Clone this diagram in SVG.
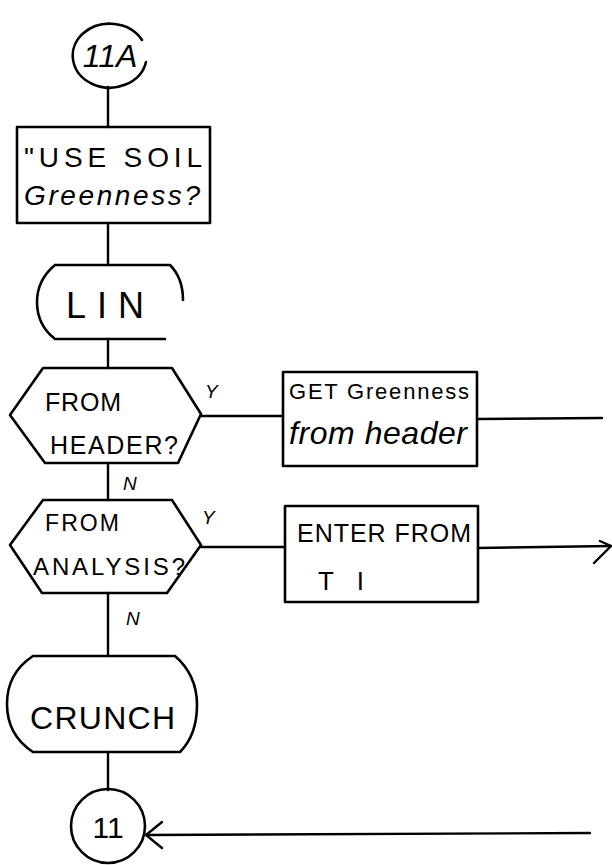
<svg xmlns="http://www.w3.org/2000/svg" width="612" height="865" viewBox="0 0 612 865">
<style>
.s{fill:none;stroke:#000;stroke-width:2.6;stroke-linejoin:round;stroke-linecap:round}
.c{fill:none;stroke:#000;stroke-width:2.4;stroke-linecap:round}
.t{font-family:"Liberation Sans",Arial,sans-serif;fill:#000}
.l{font-family:"Liberation Sans",Arial,sans-serif;fill:#000;font-size:19px;font-style:italic}
</style>
<rect width="612" height="865" fill="#fff"/>
<g id="connectors">
<line class="c" x1="108" y1="87" x2="108" y2="127"/>
<line class="c" x1="108" y1="223" x2="108" y2="265"/>
<line class="c" x1="108" y1="339" x2="108" y2="368"/>
<line class="c" x1="108" y1="463" x2="108" y2="500"/>
<line class="c" x1="108" y1="593" x2="108" y2="656"/>
<line class="c" x1="108" y1="752" x2="108" y2="790"/>
<line class="c" x1="201" y1="416" x2="283" y2="416"/>
<line class="c" x1="477" y1="419" x2="602" y2="418"/>
<line class="c" x1="201" y1="547" x2="285" y2="547"/>
<line class="c" x1="478" y1="548" x2="611" y2="546"/>
<path class="c" d="M600 541 L611 546 L594 563"/>
<line class="c" x1="590" y1="833" x2="147" y2="835"/>
<path class="c" d="M162 822 L146 835 L162 848"/>
<text class="l" x="205" y="398">Y</text>
<text class="l" x="123" y="490">N</text>
<text class="l" x="202" y="524">Y</text>
<text class="l" x="126" y="625">N</text>
</g>
<g id="n11A">
<path class="s" d="M142 40 A37 32 0 1 0 146 62"/>
<text class="t" x="110" y="67" font-size="32" text-anchor="middle" font-style="italic">11A</text>
</g>
<g id="useSoil">
<rect class="s" x="17" y="127" width="193" height="96"/>
<text class="t" x="24" y="167" font-size="28" textLength="178" lengthAdjust="spacing">"USE SOIL</text>
<text class="t" x="24" y="205" font-size="28" font-style="italic" textLength="176" lengthAdjust="spacing">Greenness?</text>
</g>
<g id="lin">
<path class="s" d="M55 265 L170 265 Q183 278 183 300 M165 339 L55 339 Q37 325 37 302 Q37 280 55 265"/>
<text class="t" x="66" y="318" font-size="36" textLength="78" lengthAdjust="spacing">LIN</text>
</g>
<g id="fromHeader">
<path class="s" d="M43 368 L172 368 L201 414 L178 463 L45 463 L10 415 Z"/>
<text class="t" x="45" y="411" font-size="25" textLength="76" lengthAdjust="spacing">FROM</text>
<text class="t" x="50" y="454" font-size="25" textLength="128" lengthAdjust="spacing">HEADER?</text>
</g>
<g id="getGreenness">
<rect class="s" x="283" y="372" width="194" height="94"/>
<text class="t" x="289" y="399" font-size="22" textLength="180" lengthAdjust="spacing">GET Greenness</text>
<text class="t" x="289" y="444" font-size="32" font-style="italic" textLength="178" lengthAdjust="spacing">from header</text>
</g>
<g id="fromAnalysis">
<path class="s" d="M43 500 L172 500 L201 545 L167 593 L42 593 L10 545 Z"/>
<text class="t" x="45" y="531" font-size="23" textLength="74" lengthAdjust="spacing">FROM</text>
<text class="t" x="33" y="575" font-size="24" textLength="152" lengthAdjust="spacing">ANALYSIS?</text>
</g>
<g id="enterFromTI">
<rect class="s" x="285" y="506" width="193" height="96"/>
<text class="t" x="297" y="542" font-size="25" textLength="174" lengthAdjust="spacing">ENTER FROM</text>
<text class="t" x="318" y="590" font-size="26" textLength="46" lengthAdjust="spacing">TI</text>
</g>
<g id="crunch">
<path class="s" d="M33 656 L175 656 Q197 675 197 705 Q197 735 180 752 L33 752 Q7 735 7 704 Q7 673 33 656 Z"/>
<text class="t" x="30" y="729" font-size="32" textLength="145" lengthAdjust="spacing">CRUNCH</text>
</g>
<g id="n11">
<circle class="s" cx="108" cy="826" r="37"/>
<text class="t" x="108" y="838" font-size="30" text-anchor="middle">11</text>
</g>
</svg>
